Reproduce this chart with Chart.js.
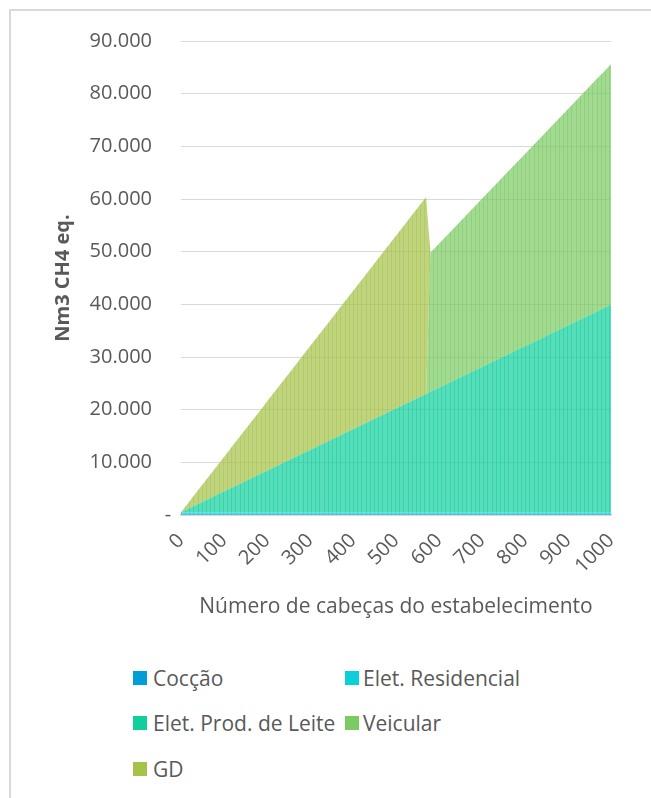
<!DOCTYPE html>
<html>
<head>
<meta charset="utf-8">
<script src="https://cdn.jsdelivr.net/npm/chart.js@4/dist/chart.umd.min.js"></script>
<style>
  html, body { margin: 0; padding: 0; background: #fff; width: 651px; height: 798px; overflow: hidden; }
  #frame { position: absolute; left: 9px; top: 9px; width: 700px; height: 900px; border-left: 2px solid #d9d9d9; border-top: 2px solid #d9d9d9; box-sizing: border-box; }
  #wrap { position: absolute; left: 0; top: 0; width: 651px; height: 640px; }
  .leg { position: absolute; font-family: 'Open Sans', sans-serif; font-size: 21px; color: #595959; line-height: 26px; white-space: nowrap; }
  .leg span.box { position: absolute; width: 14px; height: 14px; }
</style>
</head>
<body>
<div id="frame"></div>
<div id="wrap"><canvas id="c" width="651" height="640"></canvas></div>
<div id="legend"></div>
<script>
const categories = [0,10,20,30,40,50,60,70,80,90,
  100,110,120,130,140,150,160,170,180,190,
  200,210,220,230,240,250,260,270,280,290,
  300,310,320,330,340,350,360,370,380,390,
  400,410,420,430,440,450,460,470,480,490,
  500,510,520,530,540,550,560,570,580,590,
  600,610,620,630,640,650,660,670,680,690,
  700,710,720,730,740,750,760,770,780,790,
  800,810,820,830,840,850,860,870,880,890,
  900,910,920,930,940,950,960,970,980,990,
  1000];

const seriesNames = ['Cocção', 'Elet. Residencial', 'Elet. Prod. de Leite', 'Veicular', 'GD'];

const coccao = [80,80,80,80,80,80,80,80,80,80,
  80,80,80,80,80,80,80,80,80,80,
  80,80,80,80,80,80,80,80,80,80,
  80,80,80,80,80,80,80,80,80,80,
  80,80,80,80,80,80,80,80,80,80,
  80,80,80,80,80,80,80,80,80,80,
  80,80,80,80,80,80,80,80,80,80,
  80,80,80,80,80,80,80,80,80,80,
  80,80,80,80,80,80,80,80,80,80,
  80,80,80,80,80,80,80,80,80,80,
  80];

const eletResidencial = [450,450,450,450,450,450,450,450,450,450,
  450,450,450,450,450,450,450,450,450,450,
  450,450,450,450,450,450,450,450,450,450,
  450,450,450,450,450,450,450,450,450,450,
  450,450,450,450,450,450,450,450,450,450,
  450,450,450,450,450,450,450,450,450,450,
  450,450,450,450,450,450,450,450,450,450,
  450,450,450,450,450,450,450,450,450,450,
  450,450,450,450,450,450,450,450,450,450,
  450,450,450,450,450,450,450,450,450,450,
  450];

const eletProdLeite = [0,394,788,1182,1576,1970,2364,2758,3152,3546,
  3940,4334,4728,5122,5516,5910,6304,6698,7092,7486,
  7880,8274,8668,9062,9456,9850,10244,10638,11032,11426,
  11820,12214,12608,13002,13396,13790,14184,14578,14972,15366,
  15760,16154,16548,16942,17336,17730,18124,18518,18912,19306,
  19700,20094,20488,20882,21276,21670,22064,22458,22852,23246,
  23640,24034,24428,24822,25216,25610,26004,26398,26792,27186,
  27580,27974,28368,28762,29156,29550,29944,30338,30732,31126,
  31520,31914,32308,32702,33096,33490,33884,34278,34672,35066,
  35460,35854,36248,36642,37036,37430,37824,38218,38612,39006,
  39400];

const veicular = [0,0,0,0,0,0,0,0,0,0,
  0,0,0,0,0,0,0,0,0,0,
  0,0,0,0,0,0,0,0,0,0,
  0,0,0,0,0,0,0,0,0,0,
  0,0,0,0,0,0,0,0,0,0,
  0,0,0,0,0,0,0,0,26438,26896,
  27354,27812,28270,28728,29186,29644,30102,30560,31018,31476,
  31934,32392,32850,33308,33766,34224,34682,35140,35598,36056,
  36514,36972,37430,37888,38346,38804,39262,39720,40178,40636,
  41094,41552,42010,42468,42926,43384,43842,44300,44758,45216,
  45674];

const gd = [0,656,1312,1968,2624,3280,3936,4592,5248,5904,
  6560,7216,7872,8528,9184,9840,10496,11152,11808,12464,
  13120,13776,14432,15088,15744,16400,17056,17712,18368,19024,
  19680,20336,20992,21648,22304,22960,23616,24272,24928,25584,
  26240,26896,27552,28208,28864,29520,30176,30832,31488,32144,
  32800,33456,34112,34768,35424,36080,36736,37392,0,0,
  0,0,0,0,0,0,0,0,0,0,
  0,0,0,0,0,0,0,0,0,0,
  0,0,0,0,0,0,0,0,0,0,
  0,0,0,0,0,0,0,0,0,0,
  0];

const yTicks = [0,10000,20000,30000,40000,50000,60000,70000,80000,90000];
const xTitle = 'Número de cabeças do estabelecimento';
const yTitle = 'Nm3 CH4 eq.';

const colors = ['#009DD9', '#0BD0D9', '#10CF9B', '#7CCA62', '#A5C249'];
const seriesData = [coccao, eletResidencial, eletProdLeite, veicular, gd];

function hexA(hex, a) {
  const n = parseInt(hex.slice(1), 16);
  return 'rgba(' + ((n >> 16) & 255) + ',' + ((n >> 8) & 255) + ',' + (n & 255) + ',' + a + ')';
}
function fmt(v) {
  if (v === 0) return '';
  return String(v).replace(/\B(?=(\d{3})+(?!\d))/g, '.');
}

const canvas = document.getElementById('c');
const mainCtx = canvas.getContext('2d');
// semi-transparent fill with faint vertical stripes (style only)
const stripeCols = [0, 4, 9, 13, 17];
function stripePattern(hex) {
  const c = document.createElement('canvas');
  c.width = 21; c.height = 4;
  const g = c.getContext('2d');
  for (let x = 0; x < c.width; x++) {
    g.fillStyle = hexA(hex, stripeCols.includes(x) ? 0.86 : 0.7);
    g.fillRect(x, 0, 1, c.height);
  }
  return mainCtx.createPattern(c, 'repeat');
}

const textColor = '#595959';
const fontFam = "'Open Sans', sans-serif";

const zeroDash = {
  id: 'zeroDash',
  afterDraw(chart) {
    const ctx = chart.ctx;
    const y = chart.scales.y.getPixelForValue(yTicks[0]);
    ctx.save();
    ctx.fillStyle = textColor;
    ctx.font = '20px ' + fontFam;
    ctx.textAlign = 'center';
    ctx.textBaseline = 'middle';
    ctx.fillText('-', chart.chartArea.left - 13, y);
    ctx.restore();
  }
};

new Chart(canvas, {
  type: 'line',
  data: {
    labels: categories,
    datasets: seriesNames.map((name, i) => ({
      label: name,
      data: seriesData[i],
      backgroundColor: stripePattern(colors[i]),
      borderColor: 'rgba(0,0,0,0)',
      borderWidth: 0,
      pointRadius: 0,
      tension: 0,
      fill: i === 0 ? 'origin' : '-1'
    }))
  },
  options: {
    responsive: false,
    animation: false,
    layout: { padding: { top: 38, left: 40, right: 40, bottom: 0 } },
    plugins: { legend: { display: false }, tooltip: { enabled: false } },
    scales: {
      x: {
        stacked: true,
        offset: false,
        grid: { display: false },
        border: { display: true, color: '#d9d9d9', width: 2 },
        ticks: {
          autoSkip: false,
          maxRotation: 45,
          minRotation: 45,
          padding: 6,
          color: textColor,
          font: { family: fontFam, size: 20 },
          callback: function (val, idx) { return categories[idx] % 100 === 0 ? String(categories[idx]) : ''; }
        },
        title: {
          display: true,
          text: xTitle,
          color: textColor,
          font: { family: fontFam, size: 21 },
          padding: { top: 0, bottom: 20 }
        },
        afterFit: function (s) { s.height = 125; }
      },
      y: {
        stacked: true,
        min: 0,
        max: 90000,
        afterBuildTicks: function (s) { s.ticks = yTicks.map(v => ({ value: v })); },
        grid: { color: '#d9d9d9', lineWidth: 1, drawTicks: false },
        border: { display: false },
        ticks: {
          padding: 29,
          color: textColor,
          font: { family: fontFam, size: 20 },
          callback: function (v) { return fmt(v); }
        },
        title: {
          display: true,
          text: yTitle,
          color: textColor,
          font: { family: fontFam, size: 20, weight: 'bold' },
          padding: { top: 11, bottom: 0 }
        },
        afterFit: function (s) { s.width = 141; }
      }
    }
  },
  plugins: [zeroDash]
});

// HTML legend (two columns)
const legendPos = [
  { left: 133, top: 678 }, { left: 345, top: 678 },
  { left: 133, top: 723 }, { left: 345, top: 723 },
  { left: 133, top: 769 }
];
const legendEl = document.getElementById('legend');
seriesNames.forEach((name, i) => {
  const p = legendPos[i];
  const d = document.createElement('div');
  d.className = 'leg';
  d.style.left = p.left + 'px';
  d.style.top = (p.top - 13) + 'px';
  d.style.paddingLeft = (i % 2 === 0 ? 20 : 18) + 'px';
  const b = document.createElement('span');
  b.className = 'box';
  b.style.background = colors[i];
  b.style.left = '0px';
  b.style.top = '6px';
  d.appendChild(b);
  d.appendChild(document.createTextNode(name));
  legendEl.appendChild(d);
});
</script>
</body>
</html>
